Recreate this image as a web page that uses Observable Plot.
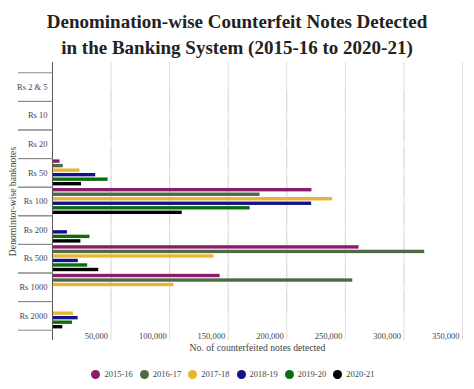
<!DOCTYPE html>
<html>
<head>
<meta charset="utf-8">
<script src="https://cdn.jsdelivr.net/npm/d3@7"></script>
<script src="https://cdn.jsdelivr.net/npm/@observablehq/plot@0.6"></script>
<style>
  html, body { margin: 0; padding: 0; background: #fff; }
  body { width: 474px; height: 389px; overflow: hidden; font-family: "Liberation Serif", serif; }
  #title { padding-top: 9px; text-align: center; font-weight: bold; font-size: 19px; line-height: 26px; color: #222; }
  #chart svg { display: block; }
  #chart g[aria-label="x-axis label"] text, #chart g[aria-label="fy-axis label"] text { font-size: 9.7px; }
  #legend { display: flex; justify-content: center; align-items: center; gap: 7px; padding-top: 11px; padding-right: 8px; font-size: 8.5px; color: #444; }
  #legend .item { display: flex; align-items: center; gap: 4px; }
  #legend .dot { width: 9px; height: 9px; border-radius: 50%; display: inline-block; }
</style>
</head>
<body>
<div id="title">Denomination-wise Counterfeit Notes Detected<br>in the Banking System (2015-16 to 2020-21)</div>
<div id="chart"></div>
<div id="legend"></div>
<script>
const denominations = ["Rs 2 & 5", "Rs 10", "Rs 20", "Rs 50", "Rs 100", "Rs 200", "Rs 500", "Rs 1000", "Rs 2000"];
const years = ["2015-16", "2016-17", "2017-18", "2018-19", "2019-20", "2020-21"];
const colors = ["#8b1c6c", "#4e6a45", "#e7b533", "#12128a", "#0b6e0b", "#000000"];
const xTicks = [50000, 100000, 150000, 200000, 250000, 300000, 350000];

// values per series, aligned with denominations
const v2015_16 = [2, 134, 96, 6453, 221447, 0, 261695, 143099, 0];
const v2016_17 = [1, 523, 324, 9222, 177195, 0, 317766, 256324, 638];
const v2017_18 = [9, 287, 437, 23447, 239182, 79, 137810, 103611, 17929];
const v2018_19 = [1, 20, 900, 36875, 221218, 12728, 22036, 900, 21847];
const v2019_20 = [0, 144, 300, 47466, 168739, 31969, 30054, 0, 17020];
const v2020_21 = [0, 304, 700, 24802, 110736, 24245, 39453, 0, 8798];
const series = [v2015_16, v2016_17, v2017_18, v2018_19, v2019_20, v2020_21];

const data = [];
denominations.forEach((d, i) => {
  years.forEach((y, j) => data.push({denom: d, year: y, value: series[j][i]}));
});

const width = 474, height = 297;
const marginLeft = 52, marginRight = 12;
const plotW = width - marginLeft - marginRight;

const chart = Plot.plot({
  width, height,
  marginTop: 1, marginBottom: 18, marginLeft, marginRight,
  style: {fontFamily: "Liberation Serif, serif", fontSize: "8.5px", color: "#444", background: "white"},
  x: {domain: [0, 350000]},
  y: {domain: years, axis: null, paddingInner: 0.25, paddingOuter: 0.29, round: false},
  fy: {domain: denominations, paddingInner: 0, paddingOuter: 0.36, round: false},
  color: {domain: years, range: colors},
  marks: [
    Plot.gridX(xTicks, {stroke: "#dedede", strokeOpacity: 1, insetTop: -10.3, insetBottom: -10.3}),
    Plot.barX(data, {x: "value", y: "year", fy: "denom", fill: "year"}),
    Plot.ruleX([0], {stroke: "#555", insetTop: -10.3, insetBottom: -10.3}),
    Plot.frame({anchor: "top", stroke: "#888", insetLeft: -34, insetRight: plotW}),
    Plot.frame({anchor: "bottom", stroke: "#888", insetLeft: -34, insetRight: plotW}),
    Plot.axisFy({anchor: "left", tickSize: 0, tickPadding: 5, fontSize: 8.5, label: "Denomintor-wise banknotes", labelAnchor: "center", labelOffset: 43, labelArrow: "none"}),
    Plot.axisX(xTicks, {anchor: "bottom", tickSize: 0, tickPadding: 2.5, textAnchor: "end", dx: -3, tickFormat: d3.format(","), label: "No. of counterfeited notes detected", labelAnchor: "center", labelOffset: 21, labelArrow: "none", fontSize: 8.5})
  ]
});
document.getElementById("chart").appendChild(chart);

const legend = document.getElementById("legend");
years.forEach((y, i) => {
  const item = document.createElement("span");
  item.className = "item";
  const dot = document.createElement("span");
  dot.className = "dot";
  dot.style.background = colors[i];
  const label = document.createElement("span");
  label.textContent = y;
  item.appendChild(dot);
  item.appendChild(label);
  legend.appendChild(item);
});
</script>
</body>
</html>
